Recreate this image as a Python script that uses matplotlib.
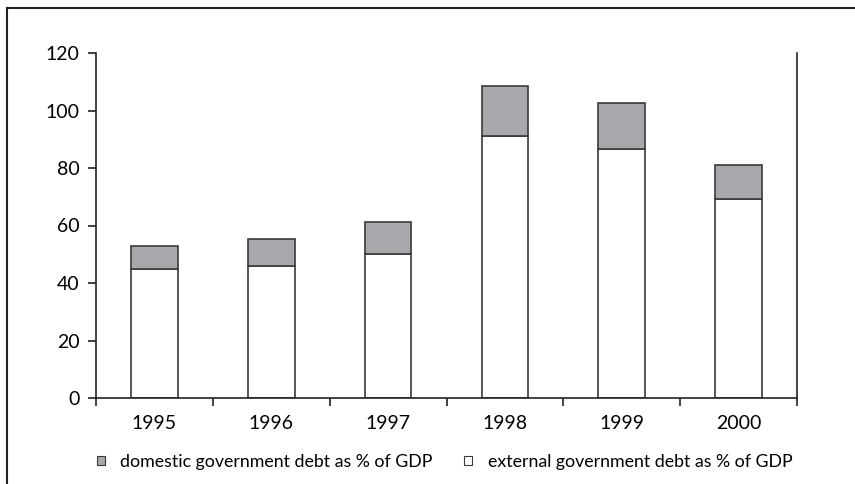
import matplotlib
matplotlib.use("Agg")
import matplotlib.pyplot as plt
from matplotlib.patches import Patch
from matplotlib.lines import Line2D
import numpy as np

years = ["1995", "1996", "1997", "1998", "1999", "2000"]
external = [44.9, 46.0, 50.0, 91.1, 86.6, 69.2]
domestic = [8.0, 9.3, 11.1, 17.5, 16.1, 11.8]
yticks = [0, 20, 40, 60, 80, 100, 120]

plt.rcParams['font.family'] = ['Lato', 'DejaVu Sans']

fig = plt.figure(figsize=(8.55, 4.84), dpi=100)
ax = fig.add_axes([96/855, 1-398/484, (797-96)/855, (398-53)/484])

x = np.arange(len(years))
gray = "#a7a8ac"
edge = "#3a3a3a"
w = 0.40
ax.bar(x, external, width=w, color="white", edgecolor=edge, linewidth=1.2, zorder=2)
ax.bar(x, domestic, width=w, bottom=external, color=gray, edgecolor=edge, linewidth=1.2, zorder=2)

ax.set_xlim(-0.5, 5.5)
ax.set_ylim(0, 120)
ax.set_yticks(yticks)
ax.set_yticklabels([str(v) for v in yticks], fontsize=14)
ax.set_xticks(x)
ax.set_xticklabels(years, fontsize=14)
ax.tick_params(axis='x', which='major', length=0, pad=12)
ax.set_xticks(np.arange(-0.5, 6.0, 1.0), minor=True)
ax.tick_params(axis='x', which='minor', length=6, width=1.2, color="#222222", direction='out')
ax.tick_params(axis='y', length=6, width=1.2, color="#222222", direction='out', pad=6)
ax.spines['top'].set_visible(False)
for s in ['left', 'right', 'bottom']:
    ax.spines[s].set_linewidth(1.2)
    ax.spines[s].set_color("#222222")

handles = [Patch(facecolor=gray, edgecolor=edge, linewidth=0.8, label="domestic government debt as % of GDP"),
           Patch(facecolor="white", edgecolor=edge, linewidth=0.8, label="external government debt as % of GDP")]
fig.legend(handles=handles, loc='center', bbox_to_anchor=(0.52, 1-462/484), ncol=2,
           frameon=False, fontsize=12.8, handlelength=0.45, handleheight=0.45,
           handletextpad=0.85, columnspacing=1.8)

# outer frame (top and left edges visible)
fig.add_artist(Line2D([7/855, 1.0], [1-8/484, 1-8/484], transform=fig.transFigure, color="#222222", linewidth=1.5))
fig.add_artist(Line2D([7/855, 7/855], [0.0, 1-8/484], transform=fig.transFigure, color="#222222", linewidth=1.5))

fig.savefig("out.png", dpi=100)
